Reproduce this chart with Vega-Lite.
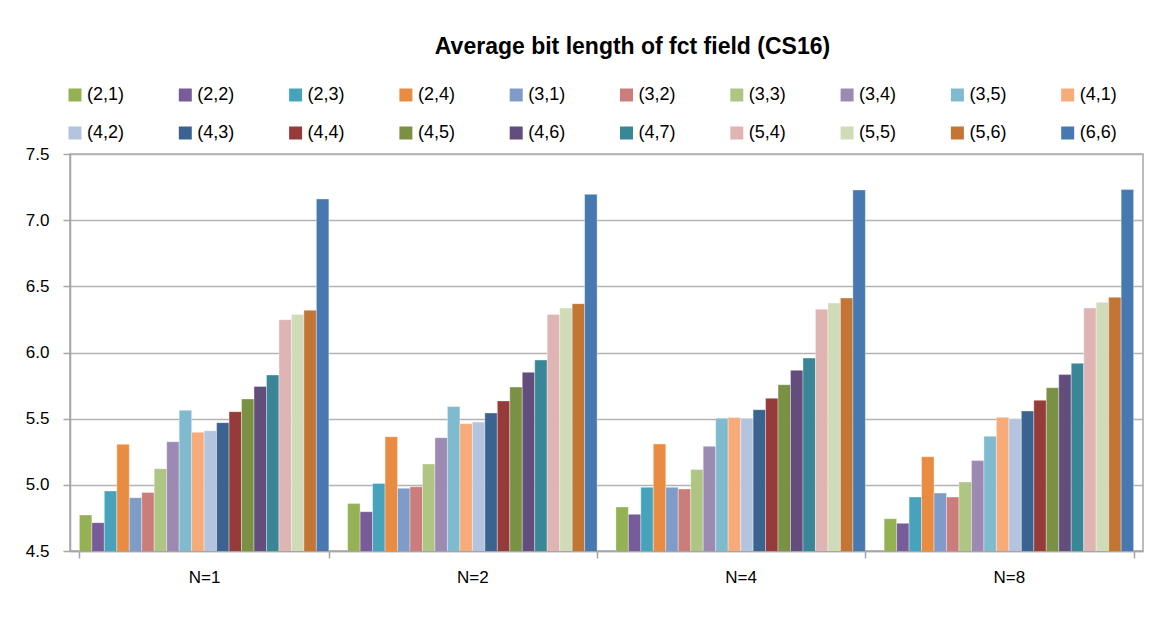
{
  "$schema": "https://vega.github.io/schema/vega-lite/v6.json",
  "autosize": "none",
  "width": 1073,
  "height": 397,
  "padding": {"left": 70, "top": 154, "right": 14, "bottom": 69},
  "background": "white",
  "title": {
    "text": "Average bit length of fct field (CS16)",
    "font": "Liberation Sans",
    "fontSize": 23,
    "fontWeight": "bold",
    "color": "#000000",
    "anchor": "middle",
    "frame": "group",
    "dx": 26,
    "offset": 27
  },
  "data": {
    "values": [
      {"N": "N=1", "s": "(2,1)", "v": 4.772}, {"N": "N=1", "s": "(2,2)", "v": 4.714}, {"N": "N=1", "s": "(2,3)", "v": 4.953}, {"N": "N=1", "s": "(2,4)", "v": 5.306}, {"N": "N=1", "s": "(3,1)", "v": 4.903}, {"N": "N=1", "s": "(3,2)", "v": 4.943}, {"N": "N=1", "s": "(3,3)", "v": 5.122}, {"N": "N=1", "s": "(3,4)", "v": 5.326}, {"N": "N=1", "s": "(3,5)", "v": 5.563}, {"N": "N=1", "s": "(4,1)", "v": 5.397}, {"N": "N=1", "s": "(4,2)", "v": 5.409}, {"N": "N=1", "s": "(4,3)", "v": 5.470}, {"N": "N=1", "s": "(4,4)", "v": 5.553}, {"N": "N=1", "s": "(4,5)", "v": 5.649}, {"N": "N=1", "s": "(4,6)", "v": 5.744}, {"N": "N=1", "s": "(4,7)", "v": 5.830}, {"N": "N=1", "s": "(5,4)", "v": 6.248}, {"N": "N=1", "s": "(5,5)", "v": 6.288}, {"N": "N=1", "s": "(5,6)", "v": 6.319}, {"N": "N=1", "s": "(6,6)", "v": 7.160},
      {"N": "N=2", "s": "(2,1)", "v": 4.858}, {"N": "N=2", "s": "(2,2)", "v": 4.797}, {"N": "N=2", "s": "(2,3)", "v": 5.011}, {"N": "N=2", "s": "(2,4)", "v": 5.364}, {"N": "N=2", "s": "(3,1)", "v": 4.974}, {"N": "N=2", "s": "(3,2)", "v": 4.986}, {"N": "N=2", "s": "(3,3)", "v": 5.157}, {"N": "N=2", "s": "(3,4)", "v": 5.356}, {"N": "N=2", "s": "(3,5)", "v": 5.591}, {"N": "N=2", "s": "(4,1)", "v": 5.462}, {"N": "N=2", "s": "(4,2)", "v": 5.475}, {"N": "N=2", "s": "(4,3)", "v": 5.543}, {"N": "N=2", "s": "(4,4)", "v": 5.634}, {"N": "N=2", "s": "(4,5)", "v": 5.739}, {"N": "N=2", "s": "(4,6)", "v": 5.850}, {"N": "N=2", "s": "(4,7)", "v": 5.943}, {"N": "N=2", "s": "(5,4)", "v": 6.288}, {"N": "N=2", "s": "(5,5)", "v": 6.336}, {"N": "N=2", "s": "(5,6)", "v": 6.369}, {"N": "N=2", "s": "(6,6)", "v": 7.195},
      {"N": "N=4", "s": "(2,1)", "v": 4.833}, {"N": "N=4", "s": "(2,2)", "v": 4.777}, {"N": "N=4", "s": "(2,3)", "v": 4.981}, {"N": "N=4", "s": "(2,4)", "v": 5.309}, {"N": "N=4", "s": "(3,1)", "v": 4.981}, {"N": "N=4", "s": "(3,2)", "v": 4.969}, {"N": "N=4", "s": "(3,3)", "v": 5.115}, {"N": "N=4", "s": "(3,4)", "v": 5.291}, {"N": "N=4", "s": "(3,5)", "v": 5.503}, {"N": "N=4", "s": "(4,1)", "v": 5.508}, {"N": "N=4", "s": "(4,2)", "v": 5.503}, {"N": "N=4", "s": "(4,3)", "v": 5.568}, {"N": "N=4", "s": "(4,4)", "v": 5.654}, {"N": "N=4", "s": "(4,5)", "v": 5.757}, {"N": "N=4", "s": "(4,6)", "v": 5.865}, {"N": "N=4", "s": "(4,7)", "v": 5.958}, {"N": "N=4", "s": "(5,4)", "v": 6.326}, {"N": "N=4", "s": "(5,5)", "v": 6.374}, {"N": "N=4", "s": "(5,6)", "v": 6.412}, {"N": "N=4", "s": "(6,6)", "v": 7.228},
      {"N": "N=8", "s": "(2,1)", "v": 4.744}, {"N": "N=8", "s": "(2,2)", "v": 4.709}, {"N": "N=8", "s": "(2,3)", "v": 4.908}, {"N": "N=8", "s": "(2,4)", "v": 5.213}, {"N": "N=8", "s": "(3,1)", "v": 4.938}, {"N": "N=8", "s": "(3,2)", "v": 4.908}, {"N": "N=8", "s": "(3,3)", "v": 5.021}, {"N": "N=8", "s": "(3,4)", "v": 5.183}, {"N": "N=8", "s": "(3,5)", "v": 5.367}, {"N": "N=8", "s": "(4,1)", "v": 5.510}, {"N": "N=8", "s": "(4,2)", "v": 5.500}, {"N": "N=8", "s": "(4,3)", "v": 5.558}, {"N": "N=8", "s": "(4,4)", "v": 5.639}, {"N": "N=8", "s": "(4,5)", "v": 5.734}, {"N": "N=8", "s": "(4,6)", "v": 5.833}, {"N": "N=8", "s": "(4,7)", "v": 5.918}, {"N": "N=8", "s": "(5,4)", "v": 6.336}, {"N": "N=8", "s": "(5,5)", "v": 6.379}, {"N": "N=8", "s": "(5,6)", "v": 6.417}, {"N": "N=8", "s": "(6,6)", "v": 7.231}
    ]
  },
  "mark": {"type": "bar", "stroke": "#ffffff", "strokeWidth": 0.5, "strokeOpacity": 0.7, "clip": true},
  "encoding": {
    "x": {
      "field": "N",
      "type": "nominal",
      "sort": null,
      "scale": {"paddingInner": 0.07, "paddingOuter": 0.035},
      "axis": {
        "title": null,
        "labelAngle": 0,
        "labelFont": "Liberation Sans",
        "labelFontSize": 17,
        "labelColor": "#000000",
        "labelPadding": 11,
        "tickBand": "extent",
        "tickSize": 7,
        "tickColor": "#A6A6A6",
        "tickWidth": 1.5,
        "domainColor": "#A6A6A6",
        "domainWidth": 1.5
      }
    },
    "xOffset": {
      "field": "s",
      "type": "nominal",
      "sort": null,
      "scale": {"paddingInner": 0, "paddingOuter": 0}
    },
    "y": {
      "field": "v",
      "type": "quantitative",
      "scale": {"domain": [4.5, 7.5], "zero": false, "nice": false},
      "axis": {
        "title": null,
        "values": [4.5, 5.0, 5.5, 6.0, 6.5, 7.0, 7.5],
        "format": ".1f",
        "labelFont": "Liberation Sans",
        "labelFontSize": 17,
        "labelColor": "#000000",
        "labelPadding": 14,
        "tickSize": 7,
        "tickColor": "#A6A6A6",
        "tickWidth": 1.5,
        "domainColor": "#A6A6A6",
        "domainWidth": 1.5,
        "grid": true,
        "gridColor": "#B3B3B3",
        "gridWidth": 1.5
      }
    },
    "color": {
      "field": "s",
      "type": "nominal",
      "sort": null,
      "scale": {
        "domain": ["(2,1)", "(2,2)", "(2,3)", "(2,4)", "(3,1)", "(3,2)", "(3,3)", "(3,4)", "(3,5)", "(4,1)", "(4,2)", "(4,3)", "(4,4)", "(4,5)", "(4,6)", "(4,7)", "(5,4)", "(5,5)", "(5,6)", "(6,6)"],
        "range": ["#94B154", "#775C99", "#47A3BB", "#E98C42", "#7F9CC8", "#CB7D7B", "#AEC583", "#9C8AB3", "#7FBACF", "#F7AB78", "#B5C4DE", "#3B6392", "#953B3A", "#7A9143", "#634D7C", "#388696", "#DFB5B4", "#D0DCB8", "#C37534", "#4878B0"]
      },
      "legend": {
        "title": null,
        "orient": "none",
        "legendX": -4,
        "legendY": -68,
        "direction": "horizontal",
        "columns": 10,
        "gridAlign": "all",
        "symbolType": "square",
        "symbolSize": 169,
        "symbolStrokeWidth": 0,
        "labelFont": "Liberation Sans",
        "labelFontSize": 18,
        "labelColor": "#000000",
        "labelOffset": 3,
        "columnPadding": 51.3,
        "rowPadding": 20,
        "padding": 0
      }
    }
  },
  "config": {
    "view": {"stroke": "#A6A6A6", "strokeWidth": 1.5}
  }
}
